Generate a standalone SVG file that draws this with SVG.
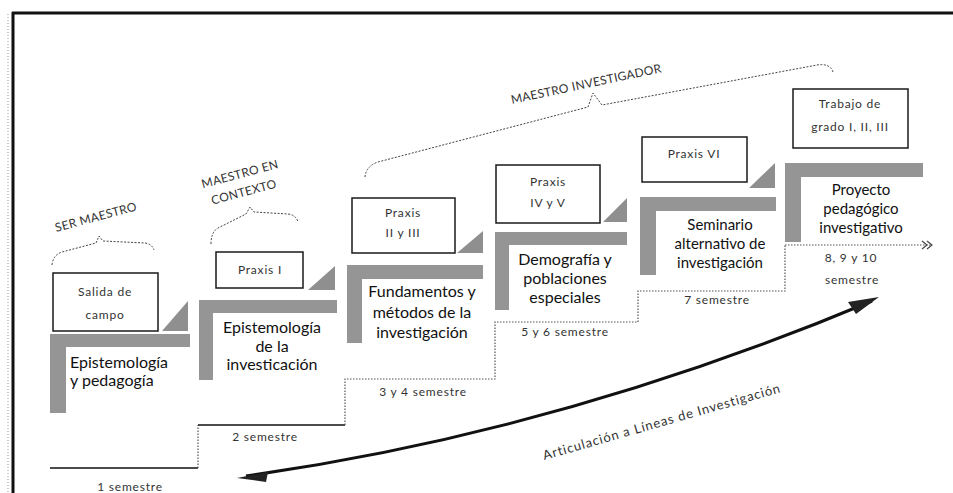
<svg xmlns="http://www.w3.org/2000/svg" width="953" height="493" viewBox="0 0 953 493">
  <defs>
    <style>
      .bar { fill: #959595; }
      .tri { fill: #8f8f8f; }
      .box { fill: #ffffff; stroke: #1a1a1a; stroke-width: 1.5; }
      .main { font-family: Lato, "Liberation Sans", sans-serif; font-size: 16px; fill: #111; }
      .main15 { font-family: Lato, "Liberation Sans", sans-serif; font-size: 15px; fill: #111; }
      .small { font-family: Lato, "Liberation Sans", sans-serif; font-size: 12px; fill: #333; letter-spacing: 0.8px; }
      .sem { font-family: Lato, "Liberation Sans", sans-serif; font-size: 12px; fill: #333; letter-spacing: 0.8px; }
      .art { font-family: Lato, "Liberation Sans", sans-serif; font-size: 13px; fill: #333; letter-spacing: 0.9px; }
      .cap { font-family: Lato, "Liberation Sans", sans-serif; font-size: 12px; fill: #333; letter-spacing: 0.3px; }
      .brace { fill: none; stroke: #444; stroke-width: 1; stroke-dasharray: 2 1.5; }
      .solid { fill: none; stroke: #111; stroke-width: 1.5; }
      .dot { fill: none; stroke: #555; stroke-width: 1.2; stroke-dasharray: 1.5 1.5; }
    </style>
    <marker id="chev" viewBox="0 0 12 10" refX="11" refY="5" markerWidth="12" markerHeight="10" markerUnits="userSpaceOnUse" orient="auto">
      <path d="M1,1 L6,5 L1,9 M6,1 L11,5 L6,9" fill="none" stroke="#444" stroke-width="1.2"/>
    </marker>
  </defs>

  <!-- frame -->
  <g id="frame">
    <line x1="12" y1="13" x2="953" y2="13" stroke="#111" stroke-width="3"/>
    <line x1="13" y1="12" x2="13" y2="493" stroke="#111" stroke-width="3"/>
    <line x1="8" y1="14" x2="8" y2="493" stroke="#999" stroke-width="1" stroke-dasharray="1 2"/>
  </g>

  <!-- braces and phase labels -->
  <g id="phase-ser-maestro">
    <path class="brace" d="M52,265 Q53,255 62,252 L96,243 L99,236 L103,241 L145,243 Q152,244 154,250"/>
    <text class="cap" x="97" y="221" text-anchor="middle" transform="rotate(-15 97 221)">SER MAESTRO</text>
  </g>
  <g id="phase-maestro-en-contexto">
    <path class="brace" d="M211,244 Q211,232 218,228 L246,214 L250,207 L254,212 L288,214 Q296,215 298,222"/>
    <text class="cap" x="241" y="178" text-anchor="middle" transform="rotate(-15 241 178)">MAESTRO EN</text>
    <text class="cap" x="245" y="196" text-anchor="middle" transform="rotate(-15 245 196)">CONTEXTO</text>
  </g>
  <g id="phase-maestro-investigador">
    <path class="brace" d="M365,177 Q366,166 378,162 L588,107 L593,93 L602,105 L817,65 Q830,63 833,72"/>
    <text class="cap" x="587" y="88" text-anchor="middle" transform="rotate(-12 587 88)">MAESTRO INVESTIGADOR</text>
  </g>

  <!-- connectors: step timeline and articulation arrow -->
  <g id="connectors">
    <path class="solid" d="M50,468 H198"/>
    <path class="dot" d="M198,468 V425"/>
    <path class="solid" d="M198,425 H345"/>
    <path class="dot" d="M345,425 V379 H495 V322 H638 V291 H785 V245"/>
    <path class="dot" d="M785,245 H932" marker-end="url(#chev)"/>
    <path d="M246,476 Q560,432 872,301" fill="none" stroke="#111" stroke-width="3"/>
    <path d="M237,478 L268,472 L266,482 Z" fill="#222"/>
    <path d="M879,297 L848,302 L856,314 Z" fill="#222"/>
    <text class="art" x="663" y="426" text-anchor="middle" transform="rotate(-16 663 426)">Articulación a Líneas de Investigación</text>
  </g>

  <!-- step 1 -->
  <g id="step1">
    <path class="bar" d="M50,334 H190 V347 H66 V413 H50 Z"/>
    <polygon class="tri" points="162,331 188,331 188,301"/>
    <rect class="box" x="53" y="273" width="105" height="58"/>
    <text class="small" x="105" y="296" text-anchor="middle">Salida de</text>
    <text class="small" x="105" y="319" text-anchor="middle">campo</text>
    <text class="main" x="70" y="368">Epistemología</text>
    <text class="main" x="70" y="386">y pedagogía</text>
    <text class="sem" x="130" y="491" text-anchor="middle">1 semestre</text>
  </g>

  <!-- step 2 -->
  <g id="step2">
    <path class="bar" d="M199,300 H337 V313 H213 V380 H199 Z"/>
    <polygon class="tri" points="308,290 335,290 335,266"/>
    <rect class="box" x="216" y="252" width="87" height="36"/>
    <text class="small" x="260" y="274" text-anchor="middle">Praxis I</text>
    <text class="main" x="272" y="333" text-anchor="middle">Epistemología</text>
    <text class="main" x="272" y="352" text-anchor="middle">de la</text>
    <text class="main" x="272" y="370" text-anchor="middle">investicación</text>
    <text class="sem" x="265" y="441" text-anchor="middle">2 semestre</text>
  </g>

  <!-- step 3 -->
  <g id="step3">
    <path class="bar" d="M347,265 H483 V279 H362 V343 H347 Z"/>
    <polygon class="tri" points="457,253 483,253 483,231"/>
    <rect class="box" x="352" y="198" width="103" height="55"/>
    <text class="small" x="403" y="217" text-anchor="middle">Praxis</text>
    <text class="small" x="403" y="237" text-anchor="middle">II y III</text>
    <text class="main" x="422" y="297" text-anchor="middle">Fundamentos y</text>
    <text class="main" x="422" y="318" text-anchor="middle">métodos de la</text>
    <text class="main" x="422" y="338" text-anchor="middle">investigación</text>
    <text class="sem" x="423" y="396" text-anchor="middle">3 y 4 semestre</text>
  </g>

  <!-- step 4 -->
  <g id="step4">
    <path class="bar" d="M495,232 H627 V245 H509 V310 H495 Z"/>
    <polygon class="tri" points="603,222 627,222 627,198"/>
    <rect class="box" x="496" y="165" width="104" height="58"/>
    <text class="small" x="548" y="186" text-anchor="middle">Praxis</text>
    <text class="small" x="548" y="207" text-anchor="middle">IV y V</text>
    <text class="main" x="565" y="265" text-anchor="middle">Demografía y</text>
    <text class="main" x="565" y="284" text-anchor="middle">poblaciones</text>
    <text class="main" x="565" y="303" text-anchor="middle">especiales</text>
    <text class="sem" x="565" y="336" text-anchor="middle">5 y 6 semestre</text>
  </g>

  <!-- step 5 -->
  <g id="step5">
    <path class="bar" d="M640,197 H776 V211 H656 V275 H640 Z"/>
    <polygon class="tri" points="749,188 775,188 775,163"/>
    <rect class="box" x="642" y="137" width="105" height="45"/>
    <text class="small" x="694" y="158" text-anchor="middle">Praxis VI</text>
    <text class="main15" x="720" y="230" text-anchor="middle">Seminario</text>
    <text class="main15" x="720" y="249" text-anchor="middle">alternativo de</text>
    <text class="main15" x="720" y="268" text-anchor="middle">investigación</text>
    <text class="sem" x="717" y="304" text-anchor="middle">7 semestre</text>
  </g>

  <!-- step 6 -->
  <g id="step6">
    <path class="bar" d="M785,163 H923 V177 H801 V242 H785 Z"/>
    <rect class="box" x="793" y="89" width="115" height="59"/>
    <text class="small" x="850" y="108" text-anchor="middle">Trabajo de</text>
    <text class="small" x="850" y="131" text-anchor="middle">grado I, II, III</text>
    <text class="main15" x="861" y="195" text-anchor="middle">Proyecto</text>
    <text class="main15" x="861" y="214" text-anchor="middle">pedagógico</text>
    <text class="main15" x="861" y="233" text-anchor="middle">investigativo</text>
    <text class="sem" x="851" y="262" text-anchor="middle">8, 9 y 10</text>
    <text class="sem" x="852" y="284" text-anchor="middle">semestre</text>
  </g>
</svg>
